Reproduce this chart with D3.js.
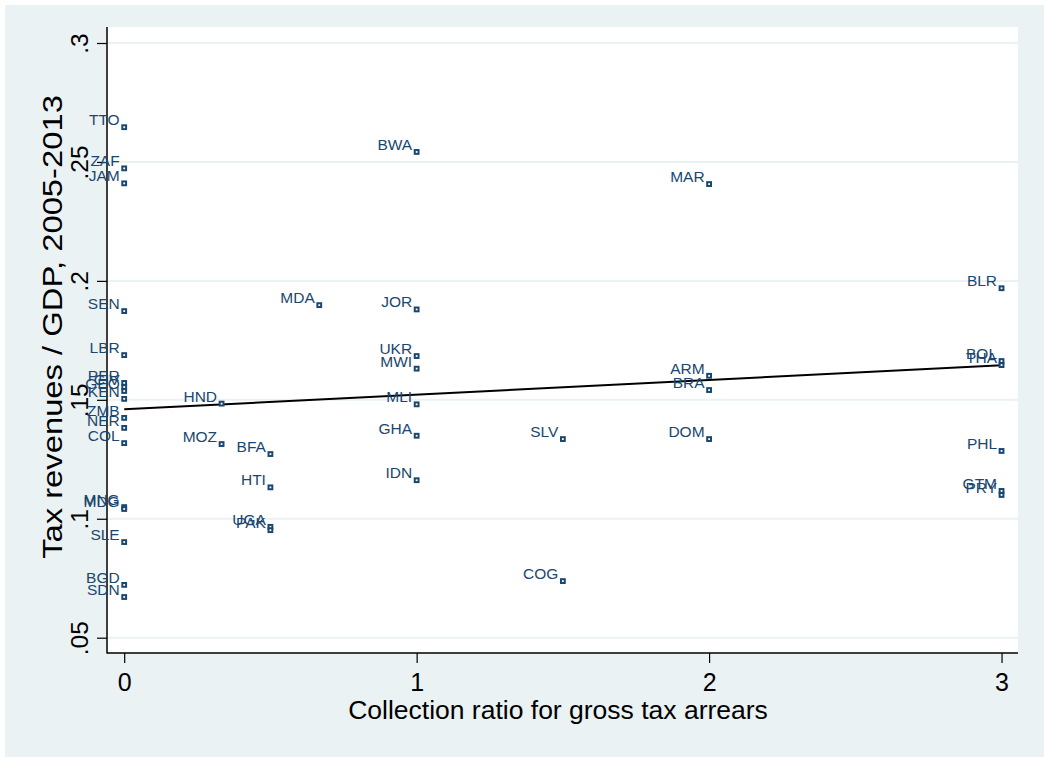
<!DOCTYPE html>
<html>
<head>
<meta charset="utf-8">
<script src="https://cdn.jsdelivr.net/npm/d3@7"></script>
<style>
  body { margin: 0; background: #ffffff; }
  svg { display: block; font-family: Arial, "Liberation Sans", Helvetica, sans-serif; }
</style>
</head>
<body>
<div id="chart-area"></div>
<script>

// country codes, collection ratio (x) and tax revenue / GDP (y)
var countries = ["TTO", "ZAF", "JAM", "SEN", "LBR", "PER", "CIV", "GEO", "KEN", "ZMB", "NER", "COL",
    "MNG", "MDG", "SLE", "BGD", "SDN",
    "HND", "MOZ", "BFA", "HTI", "UGA", "PAK", "MDA",
    "BWA", "JOR", "UKR", "MWI", "MLI", "GHA", "IDN",
    "SLV", "COG",
    "MAR", "ARM", "BRA", "DOM",
    "BLR", "BOL", "THA", "PHL", "GTM", "PRY"];

var ratio = [0, 0, 0, 0, 0, 0, 0, 0, 0, 0, 0, 0,
    0, 0, 0, 0, 0,
    0.333, 0.333, 0.5, 0.5, 0.5, 0.5, 0.667,
    1, 1, 1, 1, 1, 1, 1,
    1.5, 1.5,
    2, 2, 2, 2,
    3, 3, 3, 3, 3, 3];

var taxGdp = [0.2646, 0.2473, 0.2410, 0.1873, 0.1688, 0.1571, 0.1554, 0.1537, 0.1504, 0.1424, 0.1382, 0.1318,
    0.1049, 0.1041, 0.0902, 0.0722, 0.0671,
    0.1484, 0.1314, 0.1272, 0.1132, 0.0966, 0.0952, 0.1898,
    0.2542, 0.1880, 0.1684, 0.1631, 0.1481, 0.1349, 0.1162,
    0.1335, 0.0738,
    0.2407, 0.1601, 0.1541, 0.1335,
    0.1969, 0.1663, 0.1646, 0.1285, 0.1117, 0.1100];

// linear fit, read at the two ends
var fitX = [0, 3];
var fitY = [0.1460, 0.1645];

var xTicks = [0, 1, 2, 3];
var yTicks = [0.05, 0.1, 0.15, 0.2, 0.25, 0.3];
var yTickLabels = [".05", ".1", ".15", ".2", ".25", ".3"];

var W = 1044, H = 758;
var plot = { left: 107, top: 27, right: 1018, bottom: 653 };
var navy = "#1a476f";

var data = countries.map(function(c, i) {
    return { code: c, x: ratio[i], y: taxGdp[i] };
});

var svg = d3.select("#chart-area")
    .append("svg")
    .attr("width", W)
    .attr("height", H);

// graph region
svg.append("rect")
    .attr("x", 5).attr("y", 5)
    .attr("width", W - 5).attr("height", H - 6)
    .attr("fill", "#eaf2f3");

svg.append("rect")
    .attr("x", plot.left).attr("y", plot.top)
    .attr("width", plot.right - plot.left)
    .attr("height", plot.bottom - plot.top)
    .attr("fill", "#ffffff");

var xScale = d3.scaleLinear()
    .domain([-0.0588, 3.0563])
    .range([plot.left, plot.right]);

var yScale = d3.scaleLinear()
    .domain([0.05, 0.3])
    .range([637.7, 43.0]);

// gridlines
svg.append("g")
    .attr("class", "grid")
    .selectAll("line")
    .data(yTicks)
    .enter().append("line")
    .attr("x1", plot.left)
    .attr("x2", plot.right)
    .attr("y1", function(d) { return yScale(d); })
    .attr("y2", function(d) { return yScale(d); })
    .attr("stroke", "#eaf2f3")
    .attr("stroke-width", 2);

// axes
var yAxis = d3.axisLeft(yScale)
    .tickValues(yTicks)
    .tickSize(10)
    .tickPadding(0)
    .tickFormat(function(d, i) { return yTickLabels[i]; });

var gy = svg.append("g")
    .attr("transform", "translate(" + plot.left + ",0)")
    .call(yAxis);
gy.select(".domain").remove();
gy.selectAll(".tick line").attr("stroke", "#000").attr("stroke-width", 1.2);
gy.selectAll(".tick text")
    .attr("x", 0).attr("y", 0).attr("dy", null)
    .attr("transform", "translate(-19,0) rotate(-90)")
    .attr("text-anchor", "middle")
    .attr("fill", "#000")
    .style("font-size", "24.5px");

var xAxis = d3.axisBottom(xScale)
    .tickValues(xTicks)
    .tickSize(10)
    .tickFormat(d3.format("d"));

var gx = svg.append("g")
    .attr("transform", "translate(0," + plot.bottom + ")")
    .call(xAxis);
gx.select(".domain").remove();
gx.selectAll(".tick line").attr("stroke", "#000").attr("stroke-width", 1.2);
gx.selectAll(".tick text")
    .attr("y", 38).attr("dy", null)
    .attr("fill", "#000")
    .style("font-size", "25px");

svg.append("line")
    .attr("x1", plot.left).attr("x2", plot.left)
    .attr("y1", plot.top).attr("y2", plot.bottom + 0.5)
    .attr("stroke", "#000").attr("stroke-width", 1.5);

svg.append("line")
    .attr("x1", plot.left).attr("x2", plot.right)
    .attr("y1", plot.bottom).attr("y2", plot.bottom)
    .attr("stroke", "#000").attr("stroke-width", 1.5);

// axis titles
svg.append("text")
    .attr("x", 558)
    .attr("y", 719)
    .attr("text-anchor", "middle")
    .style("font-size", "26.5px")
    .text("Collection ratio for gross tax arrears");

svg.append("text")
    .attr("transform", "translate(62,327) rotate(-90) scale(1.17,1)")
    .attr("text-anchor", "middle")
    .style("font-size", "28px")
    .text("Tax revenues / GDP, 2005-2013");

// fitted line
svg.append("line")
    .attr("x1", xScale(fitX[0])).attr("y1", yScale(fitY[0]))
    .attr("x2", xScale(fitX[1])).attr("y2", yScale(fitY[1]))
    .attr("stroke", "#000")
    .attr("stroke-width", 2);

// markers
var pts = svg.append("g").attr("class", "points");

pts.selectAll("rect")
    .data(data)
    .enter().append("rect")
    .attr("x", function(d) { return xScale(d.x) - 1.9; })
    .attr("y", function(d) { return yScale(d.y) - 1.9; })
    .attr("width", 3.8)
    .attr("height", 3.8)
    .attr("fill", "#ffffff")
    .attr("stroke", navy)
    .attr("stroke-width", 2);

pts.selectAll("text")
    .data(data)
    .enter().append("text")
    .attr("x", function(d) { return xScale(d.x) - 4.5; })
    .attr("y", function(d) { return yScale(d.y) - 2; })
    .attr("text-anchor", "end")
    .attr("fill", navy)
    .style("font-size", "15.5px")
    .text(function(d) { return d.code; });

</script>
</body>
</html>
